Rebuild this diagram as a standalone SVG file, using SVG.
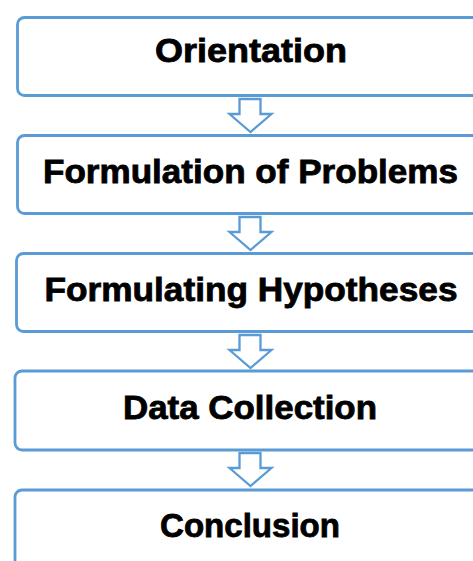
<svg xmlns="http://www.w3.org/2000/svg" width="473" height="561" viewBox="0 0 473 561">
<style>
.box{fill:#fff;stroke:#5B9BD5;stroke-width:2.8}
.arr{fill:#fff;stroke:#5B9BD5;stroke-width:2.3;stroke-linejoin:miter}
.lbl{font-family:"Liberation Sans",Arial,sans-serif;font-weight:bold;font-size:33px;fill:#000;stroke:#000;stroke-width:0.8;text-anchor:middle}
</style>
<rect width="473" height="561" fill="#fff"/>
<g id="connectors">
<path class="arr" d="M239.5 99 H260.5 V114 H271.5 L250.5 132 L229.5 114 H239.5 Z"/>
<path class="arr" d="M239.5 217 H260.5 V232 H271.5 L250.5 250 L229.5 232 H239.5 Z"/>
<path class="arr" d="M239.5 335 H260.5 V350 H271.5 L250.5 368 L229.5 350 H239.5 Z"/>
<path class="arr" d="M239.5 453 H260.5 V468 H271.5 L250.5 486 L229.5 468 H239.5 Z"/>
</g>
<g id="orientation">
<rect class="box" x="17.5" y="17.5" width="480" height="78" rx="7"/>
<text class="lbl" x="251" y="62" textLength="192" lengthAdjust="spacingAndGlyphs">Orientation</text>
</g>
<g id="formulation">
<rect class="box" x="17.5" y="135.5" width="480" height="78" rx="7"/>
<text class="lbl" x="250.5" y="183" textLength="415" lengthAdjust="spacingAndGlyphs">Formulation of Problems</text>
</g>
<g id="hypotheses">
<rect class="box" x="16.5" y="253.5" width="480" height="78" rx="7"/>
<text class="lbl" x="251" y="301" textLength="413" lengthAdjust="spacingAndGlyphs">Formulating Hypotheses</text>
</g>
<g id="data">
<rect class="box" x="15" y="371" width="480" height="79" rx="7"/>
<text class="lbl" x="250" y="419" textLength="254" lengthAdjust="spacingAndGlyphs">Data Collection</text>
</g>
<g id="conclusion">
<rect class="box" x="15" y="490" width="480" height="79" rx="7"/>
<text class="lbl" x="250" y="537" textLength="180" lengthAdjust="spacingAndGlyphs">Conclusion</text>
</g>
</svg>
